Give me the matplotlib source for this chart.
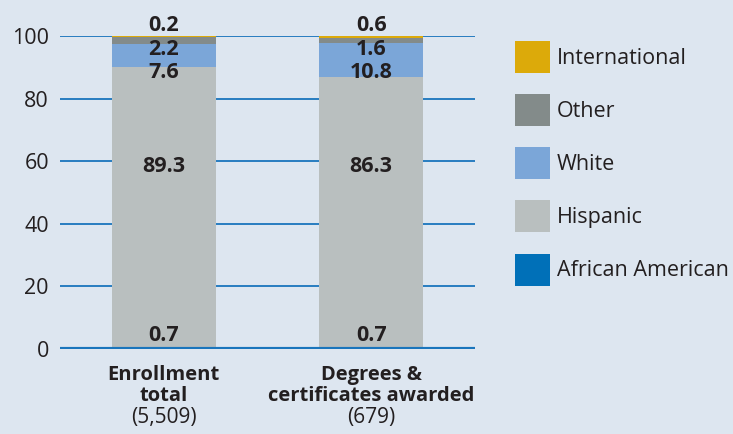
import matplotlib
matplotlib.use("Agg")
import matplotlib.pyplot as plt
from matplotlib.patches import Patch
from matplotlib.transforms import blended_transform_factory

plt.rcParams['font.family'] = ['Open Sans', 'DejaVu Sans']

categories = ["Enrollment", "Degrees &"]
categories_line2 = ["total", "certificates awarded"]
counts = ["(5,509)", "(679)"]
groups = ["African American", "Hispanic", "White", "Other", "International"]
african_american = [0.7, 0.7]
hispanic = [89.3, 86.3]
white = [7.6, 10.8]
other = [2.2, 1.6]
international = [0.2, 0.6]
yticks = [0, 20, 40, 60, 80, 100]

series = [african_american, hispanic, white, other, international]
colors = ["#0070b8", "#b9bfbf", "#7ba6d8", "#838b8a", "#dcaa0a"]

bg = "#dde6f0"
grid_col = "#1a75bc"
text_col = "#231f20"

fig = plt.figure(figsize=(7.33, 4.34), dpi=100, facecolor=bg)
ax = fig.add_axes([60 / 733, (434 - 349) / 434, 415 / 733, 313 / 434])
ax.set_facecolor(bg)

x = list(range(len(categories)))
bottoms = [0.0] * len(categories)
for vals, col, name in zip(series, colors, groups):
    ax.bar(x, vals, bottom=bottoms, width=0.5, color=col, label=name,
           zorder=2, linewidth=0)
    bottoms = [b + v for b, v in zip(bottoms, vals)]

ax.set_xlim(-0.5, 1.5)
ax.set_ylim(0, 100)
for yv in yticks[1:]:
    ax.axhline(yv, color=grid_col, lw=1.3, zorder=1)
ax.axhline(0, color=grid_col, lw=3, zorder=3)

ax.set_yticks(yticks)
ax.set_yticklabels([str(v) for v in yticks], fontsize=15.5, color=text_col)
ax.tick_params(axis='y', length=0, pad=8)
ax.set_xticks([])
for s in ax.spines.values():
    s.set_visible(False)

# value labels: small top segments stacked downward from the bar top
lab_kw = dict(ha='center', va='baseline', fontsize=15.5, fontweight='bold',
              color=text_col, zorder=5, clip_on=False)
for i in x:
    total = sum(s[i] for s in series)
    ax.text(i, total + 1.7, f"{international[i]}", **lab_kw)
    ax.text(i, total - 6.1, f"{other[i]}", **lab_kw)
    ax.text(i, total - 13.4, f"{white[i]}", **lab_kw)
    ax.text(i, 56.6, f"{hispanic[i]}", **lab_kw)
    ax.text(i, 2.4, f"{african_american[i]}", **lab_kw)

# category labels below the axis
tr = blended_transform_factory(ax.transData, fig.transFigure)
for i in x:
    ax.text(i, 1 - 380 / 434, categories[i], transform=tr, ha='center',
            va='baseline', fontsize=14.5, fontweight='bold', color=text_col)
    ax.text(i, 1 - 401 / 434, categories_line2[i], transform=tr, ha='center',
            va='baseline', fontsize=14.5, fontweight='bold', color=text_col)
    ax.text(i, 1 - 423 / 434, counts[i], transform=tr, ha='center',
            va='baseline', fontsize=15, color=text_col)

handles = [Patch(facecolor=c, edgecolor='none', label=g)
           for c, g in zip(colors[::-1], groups[::-1])]
fig.legend(handles=handles, loc='upper left',
           bbox_to_anchor=(506 / 733, 1 - 32.5 / 434),
           frameon=False, fontsize=15.5, handlelength=1.63, handleheight=1.91,
           handletextpad=0.33, labelspacing=0.98, borderaxespad=0,
           labelcolor=text_col)

fig.savefig("out.png", dpi=100, facecolor=bg)
